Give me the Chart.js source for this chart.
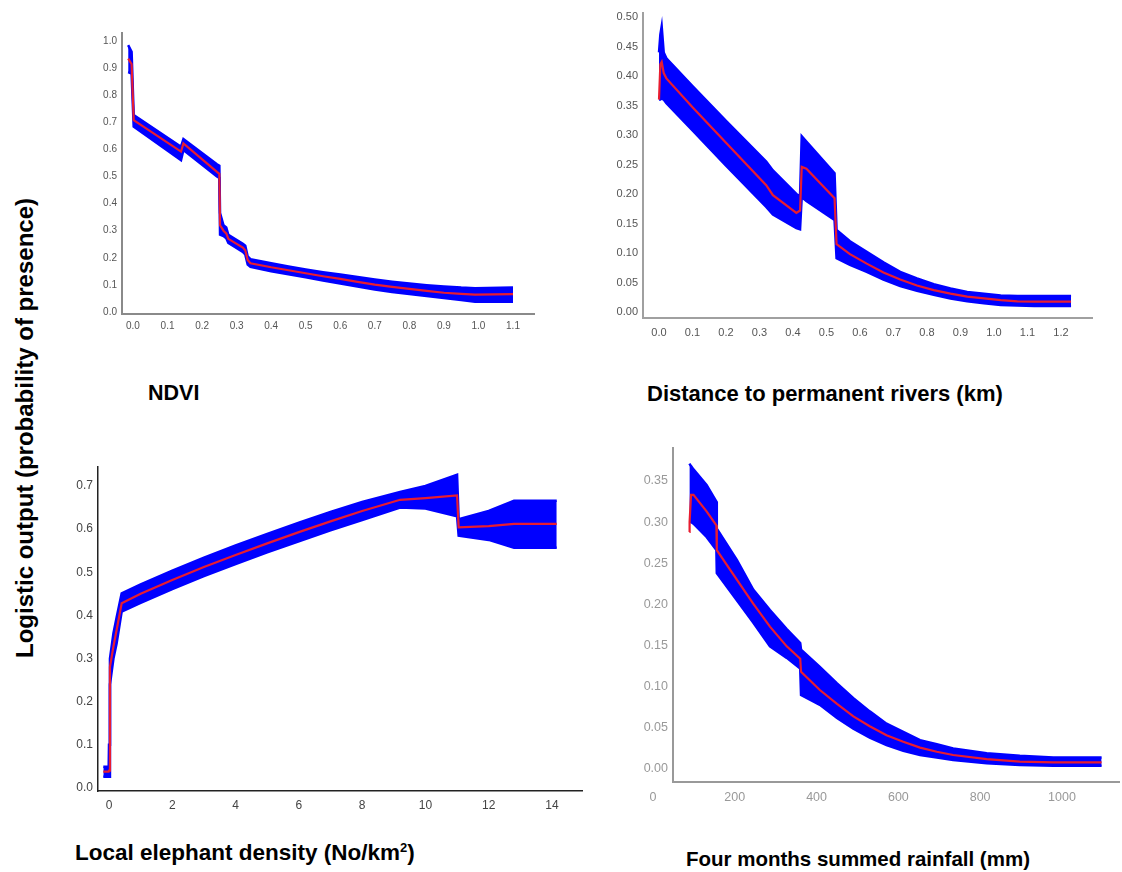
<!DOCTYPE html>
<html>
<head>
<meta charset="utf-8">
<title>Response curves</title>
<script src="https://cdn.jsdelivr.net/npm/chart.js@4.4.1/dist/chart.umd.min.js"></script>
<style>
  body { margin: 0; background: #fff; width: 1122px; height: 872px; position: relative; overflow: hidden;
         font-family: "Liberation Sans", Arial, sans-serif; }
  canvas { position: absolute; }
  .title { position: absolute; font-weight: bold; font-size: 21.5px; line-height: 1; color: #000; white-space: nowrap; }
  .title sup { font-size: 13px; line-height: 0; }
  #ytitle { left: 25px; top: 428px; font-size: 24px; transform: translate(-50%, -50%) rotate(-90deg); }
</style>
</head>
<body>
<canvas id="ndviChart"></canvas>
<canvas id="riverChart"></canvas>
<canvas id="densChart"></canvas>
<canvas id="rainChart"></canvas>

<div class="title" id="ytitle">Logistic output (probability of presence)</div>
<div class="title" style="left:148px; top:383px; font-size:21.5px;">NDVI</div>
<div class="title" style="left:647px; top:383px; font-size:22px;">Distance to permanent rivers (km)</div>
<div class="title" style="left:75px; top:842px; font-size:22.5px;">Local elephant density (No/km<sup>2</sup>)</div>
<div class="title" style="left:686px; top:849px; font-size:20.5px;">Four months summed rainfall (mm)</div>

<script>
// NDVI response
const ndviX =     [-0.014, -0.004, 0.002, 0.139, 0.146, 0.243, 0.250, 0.252, 0.262, 0.270, 0.276, 0.318, 0.325, 0.332, 0.340, 0.40, 0.45, 0.50, 0.55, 0.60, 0.65, 0.70, 0.75, 0.80, 0.85, 0.90, 0.95, 0.99, 1.10]
const ndviMean =  [0.935, 0.915, 0.708, 0.592, 0.622, 0.517, 0.510, 0.320, 0.300, 0.290, 0.270, 0.238, 0.228, 0.192, 0.180, 0.165, 0.154, 0.143, 0.132, 0.122, 0.111, 0.101, 0.093, 0.085, 0.078, 0.071, 0.067, 0.064, 0.066]
const ndviUpper = [0.985, 0.960, 0.727, 0.610, 0.638, 0.545, 0.540, 0.365, 0.320, 0.312, 0.285, 0.252, 0.245, 0.205, 0.195, 0.180, 0.168, 0.157, 0.147, 0.138, 0.129, 0.120, 0.112, 0.105, 0.099, 0.094, 0.090, 0.088, 0.090]
const ndviLower = [0.885, 0.880, 0.684, 0.560, 0.598, 0.500, 0.495, 0.285, 0.280, 0.272, 0.255, 0.222, 0.212, 0.175, 0.167, 0.150, 0.139, 0.128, 0.116, 0.105, 0.094, 0.083, 0.074, 0.066, 0.059, 0.052, 0.044, 0.038, 0.038]
const ndviXTicks = [0, 0.1, 0.2, 0.3, 0.4, 0.5, 0.6, 0.7, 0.8, 0.9, 1.0, 1.1]
const ndviYTicks = [0, 0.1, 0.2, 0.3, 0.4, 0.5, 0.6, 0.7, 0.8, 0.9, 1.0]

// Distance to permanent rivers (km)
const riverX =     [0.000, 0.004, 0.008, 0.014, 0.022, 0.10, 0.20, 0.32, 0.34, 0.41, 0.421, 0.426, 0.44, 0.524, 0.530, 0.57, 0.62, 0.67, 0.72, 0.77, 0.82, 0.87, 0.92, 0.97, 1.02, 1.07, 1.12, 1.23]
const riverMean =  [0.360, 0.420, 0.424, 0.405, 0.396, 0.347, 0.287, 0.215, 0.198, 0.168, 0.172, 0.246, 0.243, 0.193, 0.115, 0.098, 0.082, 0.067, 0.055, 0.045, 0.037, 0.031, 0.026, 0.023, 0.020, 0.018, 0.0175, 0.0175]
const riverUpper = [0.440, 0.470, 0.484, 0.440, 0.430, 0.383, 0.324, 0.255, 0.240, 0.200, 0.196, 0.298, 0.289, 0.235, 0.139, 0.120, 0.102, 0.084, 0.068, 0.057, 0.047, 0.040, 0.034, 0.031, 0.028, 0.027, 0.027, 0.027]
const riverLower = [0.360, 0.360, 0.362, 0.360, 0.354, 0.308, 0.248, 0.178, 0.165, 0.142, 0.140, 0.195, 0.188, 0.156, 0.091, 0.080, 0.068, 0.055, 0.044, 0.036, 0.029, 0.023, 0.018, 0.015, 0.012, 0.011, 0.010, 0.010]
const riverXTicks = [0, 0.1, 0.2, 0.3, 0.4, 0.5, 0.6, 0.7, 0.8, 0.9, 1.0, 1.1, 1.2]
const riverYTicks = [0, 0.05, 0.1, 0.15, 0.2, 0.25, 0.3, 0.35, 0.4, 0.45, 0.5]

// Local elephant density (No/km2)
const densX =     [-0.18, -0.01, 0.00, 0.03, 0.14, 0.24, 0.40, 1.0, 2.0, 3.0, 4.0, 5.0, 6.0, 7.0, 8.0, 9.2, 10.0, 11.0, 11.05, 12.0, 12.8, 14.15]
const densMean =  [0.038, 0.038, 0.040, 0.281, 0.328, 0.366, 0.428, 0.450, 0.482, 0.512, 0.540, 0.567, 0.593, 0.618, 0.642, 0.668, 0.672, 0.678, 0.604, 0.607, 0.612, 0.612]
const densUpper = [0.049, 0.049, 0.100, 0.300, 0.359, 0.395, 0.451, 0.472, 0.504, 0.534, 0.562, 0.589, 0.615, 0.640, 0.663, 0.686, 0.700, 0.726, 0.623, 0.642, 0.666, 0.666]
const densLower = [0.026, 0.026, 0.026, 0.240, 0.300, 0.335, 0.409, 0.429, 0.461, 0.491, 0.519, 0.546, 0.572, 0.597, 0.621, 0.650, 0.648, 0.630, 0.585, 0.575, 0.557, 0.557]
const densXTicks = [0, 2, 4, 6, 8, 10, 12, 14]
const densYTicks = [0, 0.1, 0.2, 0.3, 0.4, 0.5, 0.6, 0.7]

// Four months summed rainfall (mm)
const rainX =     [89, 89.5, 93, 99, 131, 155, 156, 205, 245, 286, 327, 360, 362, 408, 450, 490, 530, 571, 612, 653, 694, 734, 816, 897, 979, 1097]
const rainMean =  [0.288, 0.300, 0.333, 0.333, 0.313, 0.296, 0.266, 0.230, 0.201, 0.173, 0.149, 0.134, 0.118, 0.096, 0.079, 0.064, 0.052, 0.041, 0.033, 0.026, 0.021, 0.017, 0.012, 0.009, 0.008, 0.008]
const rainUpper = [0.371, 0.371, 0.368, 0.364, 0.345, 0.325, 0.292, 0.254, 0.218, 0.193, 0.170, 0.153, 0.145, 0.124, 0.104, 0.086, 0.070, 0.055, 0.045, 0.035, 0.030, 0.025, 0.019, 0.016, 0.014, 0.014]
const rainLower = [0.300, 0.300, 0.300, 0.298, 0.282, 0.266, 0.238, 0.205, 0.178, 0.149, 0.135, 0.122, 0.090, 0.078, 0.062, 0.049, 0.038, 0.029, 0.022, 0.017, 0.014, 0.011, 0.007, 0.005, 0.004, 0.004]
const rainXTicks = [0, 200, 400, 600, 800, 1000]
const rainYTicks = [0, 0.05, 0.1, 0.15, 0.2, 0.25, 0.3, 0.35]

const BAND = '#0000ff'
const MEAN = 'rgb(232, 28, 48)'

function toPoints(xs, ys) {
  return xs.map((x, i) => ({ x: x, y: ys[i] }))
}

// area = where the axis lines sit on the page
function drawPanel(id, p) {
  const yw = 45, xh = 30, padTop = 10
  const canvas = document.getElementById(id)
  const left = p.area.left - yw
  const top = p.area.top - padTop
  canvas.width = p.area.right - left
  canvas.height = p.area.bottom + xh - top
  canvas.style.left = left + 'px'
  canvas.style.top = top + 'px'
  canvas.style.width = canvas.width + 'px'
  canvas.style.height = canvas.height + 'px'

  const tickFont = { family: '"Liberation Sans", Arial, sans-serif', size: p.fontSize }

  // eslint-disable-next-line no-undef
  new Chart(canvas, {
    type: 'line',
    data: {
      datasets: [
        { label: 'mean', data: toPoints(p.x, p.mean), borderColor: MEAN, borderWidth: 2.2, pointRadius: 0, fill: false, tension: 0 },
        { label: 'upper', data: toPoints(p.x, p.upper), borderColor: BAND, backgroundColor: BAND, borderWidth: 2.5, pointRadius: 0, fill: '+1', tension: 0 },
        { label: 'lower', data: toPoints(p.x, p.lower), borderColor: BAND, borderWidth: 2.5, pointRadius: 0, fill: false, tension: 0 }
      ]
    },
    options: {
      responsive: false,
      animation: false,
      layout: { padding: { top: padTop, left: 0, right: 0, bottom: 0 } },
      plugins: { legend: { display: false }, tooltip: { enabled: false } },
      scales: {
        x: {
          type: 'linear',
          min: p.xMin,
          max: p.xMax,
          grid: { display: false, drawTicks: false },
          border: { display: true, color: p.axisColor, width: p.axisWidth },
          ticks: {
            autoSkip: false, maxRotation: 0, padding: p.xPad, color: p.tickColor, font: tickFont,
            callback: v => v.toFixed(p.xDec)
          },
          afterBuildTicks: s => { s.ticks = p.xTicks.map(v => ({ value: v })) },
          afterFit: s => { s.height = xh; s.paddingLeft = 0; s.paddingRight = 0 }
        },
        y: {
          min: p.yMin,
          max: p.yMax,
          grid: { display: false, drawTicks: false },
          border: { display: true, color: p.axisColor, width: p.axisWidth },
          ticks: {
            autoSkip: false, padding: 5, color: p.tickColor, font: tickFont,
            callback: v => v.toFixed(p.yDec)
          },
          afterBuildTicks: s => { s.ticks = p.yTicks.map(v => ({ value: v })) },
          afterFit: s => { s.width = yw; s.paddingTop = 0; s.paddingBottom = 0 }
        }
      }
    }
  })
}

drawPanel('ndviChart', {
  area: { left: 122, top: 33, right: 535, bottom: 314 },
  x: ndviX, mean: ndviMean, upper: ndviUpper, lower: ndviLower,
  xMin: -0.0318, xMax: 1.1637, yMin: -0.0074, yMax: 1.0295,
  xTicks: ndviXTicks, yTicks: ndviYTicks, xDec: 1, yDec: 1,
  fontSize: 10, tickColor: '#555', axisColor: '#8a8a8a', axisWidth: 2, xPad: 6
})

drawPanel('riverChart', {
  area: { left: 643, top: 13, right: 1093, bottom: 318 },
  x: riverX, mean: riverMean, upper: riverUpper, lower: riverLower,
  xMin: -0.0478, xMax: 1.2955, yMin: -0.0102, yMax: 0.5068,
  xTicks: riverXTicks, yTicks: riverYTicks, xDec: 1, yDec: 2,
  fontSize: 11, tickColor: '#555', axisColor: '#a0a0a0', axisWidth: 2, xPad: 8
})

drawPanel('densChart', {
  area: { left: 98, top: 467, right: 583, bottom: 791 },
  x: densX, mean: densMean, upper: densUpper, lower: densLower,
  xMin: -0.348, xMax: 14.98, yMin: -0.007, yMax: 0.744,
  xTicks: densXTicks, yTicks: densYTicks, xDec: 0, yDec: 1,
  fontSize: 12, tickColor: '#444', axisColor: '#222', axisWidth: 1.5, xPad: 7
})

drawPanel('rainChart', {
  area: { left: 673, top: 448, right: 1120, bottom: 782 },
  x: rainX, mean: rainMean, upper: rainUpper, lower: rainLower,
  xMin: 48.9, xMax: 1142, yMin: -0.0158, yMax: 0.390,
  xTicks: rainXTicks, yTicks: rainYTicks, xDec: 0, yDec: 2,
  fontSize: 12.5, tickColor: '#999', axisColor: '#999', axisWidth: 2, xPad: 8
})
</script>
</body>
</html>
